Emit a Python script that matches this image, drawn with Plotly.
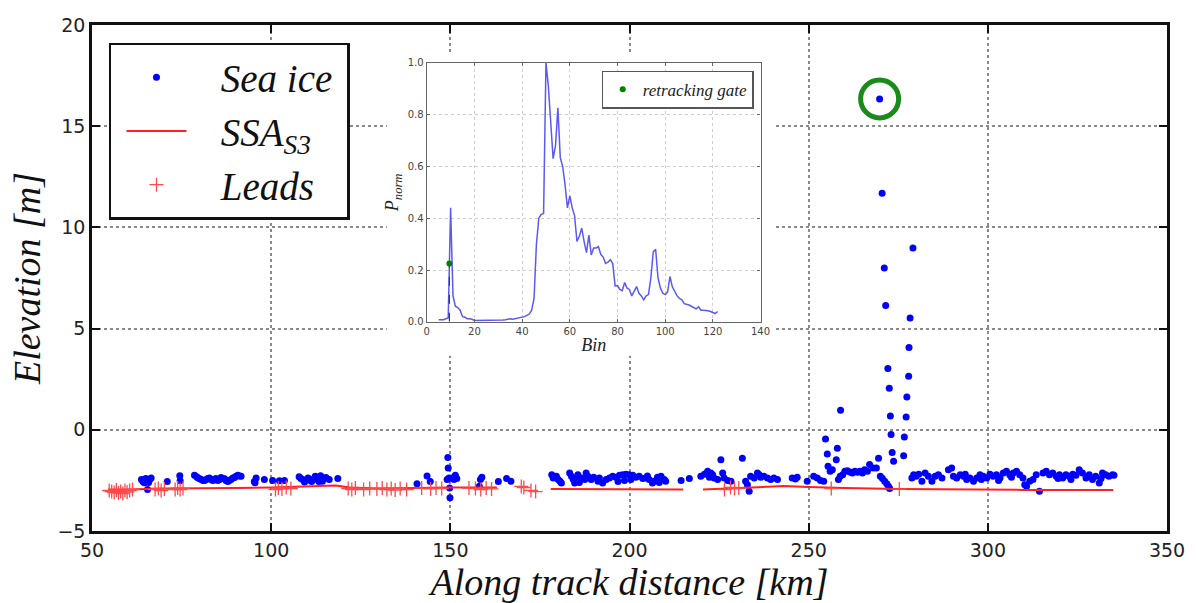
import plotly.graph_objects as go
import numpy as np

# ---------------- DATA ----------------
sea_ice_km = [
    63.8, 64.2, 64.6, 65.0, 65.5, 65.8, 66.1, 66.5, 71.0, 74.5, 74.6,
    78.6, 79.2, 79.6, 80.1, 80.5, 81.0, 81.4, 81.9, 82.3, 82.8, 83.3, 83.7, 84.2, 84.6, 85.1,
    85.6, 86.0, 86.5, 87.0, 87.4, 87.9, 88.3, 88.8, 89.3, 89.8, 90.2, 90.7, 91.2, 91.6,
    95.3, 95.5, 95.8, 98.1, 100.4, 102.3, 103.7,
    107.8, 108.3, 108.8, 109.3, 109.8, 110.3, 110.8, 111.3, 111.8, 112.3, 112.8, 113.3, 113.8,
    114.3, 114.8, 115.3, 116.2, 118.6,
    140.7, 143.5, 144.4, 149.1, 149.3, 149.4, 149.6, 149.8, 149.9, 150.5, 151.0, 151.4, 151.8,
    158.1, 158.4, 158.8, 163.4, 165.7, 166.9,
    178.3, 178.7, 179.6, 180.1, 180.6, 181.0,
    183.3, 183.8, 184.3, 184.7, 185.2, 185.6, 186.0, 186.6, 187.5, 187.9, 188.4, 189.3, 190.0,
    191.2, 191.6, 192.5, 193.5, 194.4, 195.3, 196.2, 196.8, 197.2, 198.1, 198.6, 199.0, 199.9,
    200.4, 200.9, 201.8, 202.7, 203.7, 204.6, 205.0, 205.5, 206.4, 206.9, 207.8, 208.3, 208.8,
    209.7, 210.1, 214.4, 216.7,
    219.9, 220.9, 221.8, 222.3, 222.7, 223.2, 223.6, 224.6, 225.5, 226.0, 226.4, 227.4, 228.3,
    231.5, 232.4, 232.9, 233.4, 233.8, 234.8, 235.7, 236.2, 236.6, 237.5, 238.5, 239.4, 240.3, 241.3,
    245.4, 246.3, 246.8, 249.6, 251.4, 252.4, 253.3, 254.2,
    254.7, 255.2, 255.4, 256.0, 256.6, 257.7, 258.0, 258.9, 258.3, 258.8, 259.5, 260.1, 260.8,
    261.5, 262.2, 262.9, 263.6, 264.3, 265.0, 265.6, 266.4, 267.0, 268.0, 268.9, 269.5,
    269.8, 270.5, 271.1, 271.5, 272.1, 272.5, 272.8, 273.0, 273.3, 273.7,
    270.0, 270.6, 271.2, 271.8, 272.3, 272.6,
    276.5, 276.7, 277.2, 277.4, 277.9, 278.0, 278.3, 279.1,
    278.8, 279.3, 280.0, 280.7, 281.6, 282.5, 283.4, 284.4, 285.3, 286.2, 287.2,
    289.0, 289.9, 290.4, 291.3, 292.3, 293.2, 293.7, 294.1, 295.0, 296.0, 296.9, 297.8, 298.2,
    298.7, 299.7, 300.6, 301.5, 302.4, 303.0, 303.4, 304.3, 305.2, 306.1, 306.6, 307.1, 308.0,
    308.9, 309.8, 310.3, 310.8, 311.7, 312.6, 313.5, 314.4, 315.4, 316.3, 317.2, 318.1, 319.1,
    319.6, 320.0, 320.9, 321.8, 322.7, 323.2, 323.7, 324.6, 325.5, 326.4, 327.4, 327.9, 328.3,
    329.2, 330.1, 331.1, 331.6, 332.0, 332.9, 333.8, 334.8, 335.2,
]
sea_ice_elev = [
    -2.46, -2.55, -2.62, -2.40, -2.95, -2.60, -2.46, -2.38, -2.55, -2.27, -2.52,
    -2.25, -2.32, -2.38, -2.42, -2.46, -2.50, -2.51, -2.45, -2.41, -2.38, -2.46, -2.50, -2.46, -2.41, -2.51,
    -2.45, -2.36, -2.40, -2.42, -2.50, -2.55, -2.50, -2.46, -2.38, -2.36, -2.30, -2.25, -2.28, -2.30,
    -2.55, -2.62, -2.38, -2.45, -2.50, -2.52, -2.50,
    -2.32, -2.40, -2.46, -2.58, -2.50, -2.38, -2.45, -2.55, -2.45, -2.30, -2.40, -2.55, -2.27,
    -2.54, -2.40, -2.36, -2.46, -2.41,
    -2.66, -2.28, -2.56, -2.46, -1.37, -1.89, -2.38, -2.87, -3.36, -2.38, -2.46, -2.25, -2.41,
    -2.79, -2.46, -2.35, -2.56, -2.41, -2.54,
    -2.22, -2.38, -2.30, -2.46, -2.54, -2.63,
    -2.14, -2.30, -2.46, -2.63, -2.38, -2.22, -2.60, -2.38, -2.46, -2.14, -2.30, -2.46, -2.35,
    -2.54, -2.38, -2.63, -2.46, -2.38, -2.30, -2.35, -2.55, -2.25, -2.22, -2.50, -2.19, -2.22,
    -2.45, -2.25, -2.35, -2.30, -2.41, -2.38, -2.28, -2.46, -2.63, -2.54, -2.35, -2.60, -2.30,
    -2.46, -2.54, -2.51, -2.41,
    -2.30, -2.19, -2.05, -2.35, -2.14, -2.22, -2.38, -2.46, -1.48, -2.14, -2.38, -2.51, -2.54,
    -1.40, -2.54, -2.71, -3.04, -2.30, -2.38, -2.14, -2.22, -2.35, -2.30, -2.38, -2.46, -2.38, -2.46,
    -2.38, -2.43, -2.35, -2.54, -2.30, -2.38, -2.51, -2.54,
    -0.45, -1.19, -1.80, -2.05, -1.97, -1.48, -0.91, 0.96, -2.46, -2.30, -2.22, -2.05, -2.02,
    -2.08, -2.14, -2.05, -2.10, -2.05, -2.14, -1.97, -2.05, -1.72, -1.89, -1.89, -1.40,
    16.35, 11.69, 8.00, 6.14, 3.03, 2.05, 0.68, -0.23, -1.12, -1.56,
    -2.30, -2.41, -2.54, -2.66, -2.80, -2.90,
    -1.28, -0.35, 0.63, 1.62, 2.64, 4.07, 5.52, 8.98,
    -2.38, -2.22, -2.30, -2.19, -2.54, -2.14, -2.30, -2.54, -2.30, -2.22, -2.38,
    -1.97, -1.89, -2.30, -2.38, -2.22, -2.30, -2.20, -2.46, -2.38, -2.54, -2.38, -2.22, -2.45,
    -2.30, -2.38, -2.19, -2.30, -2.22, -2.50, -2.38, -2.14, -2.05, -2.22, -2.35, -2.14, -2.05,
    -2.22, -2.38, -2.71, -2.79, -2.54, -2.46, -2.22, -3.04, -2.14, -2.05, -2.22, -2.14, -2.30,
    -2.40, -2.22, -2.38, -2.22, -2.30, -2.45, -2.19, -2.25, -1.97, -2.14, -2.38, -2.30, -2.22,
    -2.46, -2.30, -2.63, -2.40, -2.14, -2.22, -2.30, -2.22, -2.25,
]

ssa_km = [54.5, 60, 70, 80, 90, 100, 110, 118, 122, 130, 140, 150, 163, None,
          178, 195, 215, None,
          220.5, 232, 243, 250, 260, 275, 290, 310, 335]
ssa_elev = [-2.95, -2.95, -2.90, -2.87, -2.87, -2.85, -2.80, -2.75, -2.85, -2.90, -2.88, -2.85, -2.85, None,
            -2.92, -2.93, -2.95, None,
            -2.95, -2.88, -2.78, -2.82, -2.88, -2.93, -2.95, -2.97, -2.97]

leads_km = [54.8, 55.5, 56.2, 56.8, 57.4, 58.0, 58.6, 59.2, 59.8, 60.5, 61.3,
            67.6, 68.5, 69.3, 70.2, 73.2, 73.9, 74.6, 75.4,
            101.2, 102.0, 103.0, 104.2, 105.5,
            121.5, 122.5, 123.5, 125.8, 127.5, 129.5, 131.0, 132.3, 133.5, 134.6, 136.0, 137.8,
            142.0, 144.5, 146.0, 147.6,
            155.2, 157.0, 158.5, 160.0, 161.5,
            169.8, 170.5, 172.5, 173.8,
            226.5, 228.2, 229.3, 230.5,
            256.3, 275.3]
leads_elev = [-3.00, -3.05, -3.10, -2.98, -3.12, -3.05, -3.15, -3.00, -3.08, -3.00, -2.95,
              -2.95, -2.90, -3.00, -2.92, -2.95, -2.88, -2.95, -2.90,
              -2.95, -2.88, -2.92, -2.85, -2.90,
              -2.90, -2.95, -2.88, -2.95, -2.90, -2.93, -2.88, -2.95, -2.90, -2.98, -2.90, -2.95,
              -2.88, -2.92, -2.88, -2.90,
              -2.88, -2.90, -2.95, -2.88, -2.92,
              -2.80, -2.85, -3.00, -3.05,
              -2.95, -2.85, -2.90, -2.88,
              -2.90, -2.93]

wf_bin = list(range(5, 123))
wf_power = [
    0.008, 0.008, 0.008, 0.012, 0.015, 0.440, 0.100, 0.060, 0.055, 0.045,   # 5-14
    0.020, 0.018, 0.012, 0.012, 0.010, 0.005, 0.005, 0.005, 0.005, 0.005,   # 15-24
    0.005, 0.005, 0.005, 0.006, 0.006, 0.006, 0.007, 0.007, 0.008, 0.010,   # 25-34
    0.012, 0.010, 0.012, 0.014, 0.016, 0.018, 0.020, 0.025, 0.030, 0.045,   # 35-44
    0.090, 0.300, 0.400, 0.415, 0.418, 1.000, 0.910, 0.770, 0.630, 0.680,   # 45-54
    0.826, 0.634, 0.600, 0.530, 0.440, 0.486, 0.440, 0.410, 0.310, 0.330,   # 55-64
    0.362, 0.310, 0.267, 0.335, 0.258, 0.285, 0.285, 0.290, 0.260, 0.250,   # 65-74
    0.225, 0.230, 0.240, 0.225, 0.139, 0.140, 0.125, 0.120, 0.152, 0.130,   # 75-84
    0.125, 0.100, 0.120, 0.136, 0.110, 0.100, 0.085, 0.100, 0.105, 0.170,   # 85-94
    0.270, 0.280, 0.170, 0.130, 0.110, 0.105, 0.115, 0.175, 0.135, 0.115,   # 95-104
    0.100, 0.090, 0.085, 0.070, 0.068, 0.065, 0.060, 0.055, 0.050, 0.058,   # 105-114
    0.045, 0.045, 0.045, 0.043, 0.040, 0.035, 0.032, 0.040,                 # 115-122
]
gate_bin = [9.5]
gate_power = [0.225]

main_xticks = [50, 100, 150, 200, 250, 300, 350]
main_yticks = [-5, 0, 5, 10, 15, 20]
inset_xticks = [0, 20, 40, 60, 80, 100, 120, 140]
inset_yticks = [0.0, 0.2, 0.4, 0.6, 0.8, 1.0]

# ---------------- FIGURE ----------------
SERIF = "Liberation Serif"
SANS = "DejaVu Sans"
PAD = "&nbsp;&nbsp;&nbsp;"

fig = go.Figure()
fig.add_trace(go.Scatter(
    x=sea_ice_km, y=sea_ice_elev, mode="markers", name=PAD + "<i>Sea ice</i>&nbsp;",
    marker=dict(color="#0000ff", size=7, line=dict(width=0)),
))
fig.add_trace(go.Scatter(
    x=ssa_km, y=ssa_elev, mode="lines", name=PAD + "<i>SSA<sub>S3</sub></i>",
    line=dict(color="#ff2020", width=2), connectgaps=False,
))
fig.add_trace(go.Scatter(
    x=leads_km, y=leads_elev, mode="markers", name=PAD + "<i>Leads</i>",
    marker=dict(symbol="cross-thin", size=10, line=dict(color="#ff4a4a", width=1.3), color="#ff4a4a"),
))
# inset
fig.add_trace(go.Scatter(
    x=wf_bin, y=wf_power, mode="lines", xaxis="x2", yaxis="y2", showlegend=False,
    line=dict(color="#5a5af0", width=1.5),
))
fig.add_trace(go.Scatter(
    x=[gate_bin[0], gate_bin[0]], y=[0, gate_power[0]], mode="lines", xaxis="x2", yaxis="y2",
    showlegend=False, line=dict(color="#1f4f1f", width=1.2, dash="dash"),
))
fig.add_trace(go.Scatter(
    x=gate_bin, y=gate_power, mode="markers", xaxis="x2", yaxis="y2",
    name="<i>retracking gate</i>", legend="legend2",
    marker=dict(color="#008000", size=6),
))

axis_common = dict(
    showline=True, linecolor="#111", linewidth=2.5, mirror="ticks",
    ticks="inside", ticklen=8, tickwidth=1.5, tickcolor="#111",
    showgrid=True, gridcolor="#8a8a8a", gridwidth=1.5, griddash="dot",
    zeroline=False, tickfont=dict(family=SANS, size=19, color="#222"),
)
inset_common = dict(
    showline=True, linecolor="#666", linewidth=1.2, mirror="ticks",
    ticks="inside", ticklen=3, tickwidth=1, tickcolor="#666",
    showgrid=True, gridcolor="#cfcfcf", gridwidth=1, griddash="dot",
    zeroline=False, tickfont=dict(family=SANS, size=10, color="#444"),
)

fig.update_layout(
    width=1197, height=603,
    margin=dict(l=92, r=26, t=25, b=70),
    paper_bgcolor="white", plot_bgcolor="white",
    xaxis=dict(range=[50, 350], tickvals=main_xticks, domain=[0, 1],
               title=dict(text="<i>Along track distance [km]</i>",
                          font=dict(family=SERIF, size=38, color="#111"), standoff=4),
               **axis_common),
    yaxis=dict(range=[-5, 20], tickvals=main_yticks, domain=[0, 1],
               title=dict(text="<i>Elevation [m]</i>",
                          font=dict(family=SERIF, size=38, color="#111"), standoff=6),
               **axis_common),
    xaxis2=dict(range=[0, 140], tickvals=inset_xticks, domain=[0.3114, 0.6219], anchor="y2",
                title=dict(text="<i>Bin</i>", font=dict(family=SERIF, size=18, color="#222"), standoff=2),
                **inset_common),
    yaxis2=dict(range=[0, 1], tickvals=inset_yticks, tickformat=".1f", domain=[0.4134, 0.9252], anchor="x2",
                title=dict(text="<i>P<sub>norm</sub></i>", font=dict(family=SERIF, size=18, color="#222"), standoff=4),
                **inset_common),
    showlegend=True,
    legend=dict(x=0.0158, y=0.9646, xanchor="left", yanchor="top",
                bordercolor="#111", borderwidth=2.5, bgcolor="white",
                font=dict(family=SERIF, size=39, color="#111"),
                itemwidth=60, indentation=10, traceorder="normal"),
    legend2=dict(x=0.6154, y=0.910, xanchor="right", yanchor="top",
                 bordercolor="#555", borderwidth=1.2, bgcolor="white",
                 font=dict(family=SERIF, size=17, color="#222")),
)

# white backdrop for the inset's labels (hides main grid underneath), data-referenced
x_lo, x_hi = 50, 350
y_lo, y_hi = -5, 20
fig.add_shape(type="rect", xref="x", yref="y",
              x0=x_lo + 0.2743 * (x_hi - x_lo), x1=x_lo + 0.6358 * (x_hi - x_lo),
              y0=y_lo + 0.3465 * (y_hi - y_lo), y1=y_lo + 0.9449 * (y_hi - y_lo),
              fillcolor="white", line=dict(width=0), layer="between")

# green circle around highest sea-ice point
imax = int(np.argmax(sea_ice_elev))
fig.add_shape(type="circle", xref="x", yref="y", xsizemode="pixel", ysizemode="pixel",
              xanchor=sea_ice_km[imax], yanchor=sea_ice_elev[imax],
              x0=-19, x1=19, y0=-19, y1=19,
              line=dict(color="#1a8a1a", width=5), layer="above")

fig.write_html("out.html")
